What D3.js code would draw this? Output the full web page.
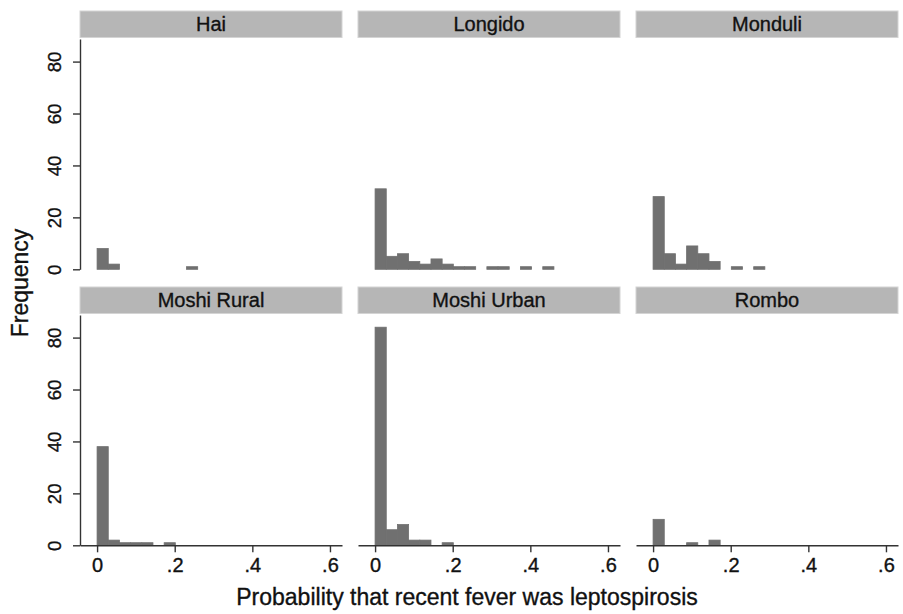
<!DOCTYPE html>
<html>
<head>
<meta charset="utf-8">
<script src="https://cdn.jsdelivr.net/npm/d3@7.9.0/dist/d3.min.js"></script>
<style>
  body { margin: 0; background: #fff; }
  svg text { font-family: "Liberation Sans", Arial, sans-serif; fill: #111; stroke: #111; stroke-width: 0.35px; }
</style>
</head>
<body>
<svg id="chart" width="903" height="614"></svg>
<script>
// histogram bins: 17 bins starting at 0
const binStart = 0;
const binWidth = 0.0288;

const districts = ["Hai", "Longido", "Monduli", "Moshi Rural", "Moshi Urban", "Rombo"];
const haiCounts        = [8, 2, 0, 0, 0, 0, 0, 0, 1, 0, 0, 0, 0, 0, 0, 0, 0];
const longidoCounts    = [31, 5, 6, 3, 2, 4, 2, 1, 1, 0, 1, 1, 0, 1, 0, 1, 0];
const monduliCounts    = [28, 6, 2, 9, 6, 3, 0, 1, 0, 1, 0, 0, 0, 0, 0, 0, 0];
const moshiRuralCounts = [38, 2, 1, 1, 1, 0, 1, 0, 0, 0, 0, 0, 0, 0, 0, 0, 0];
const moshiUrbanCounts = [84, 6, 8, 2, 2, 0, 1, 0, 0, 0, 0, 0, 0, 0, 0, 0, 0];
const romboCounts      = [10, 0, 0, 1, 0, 2, 0, 0, 0, 0, 0, 0, 0, 0, 0, 0, 0];
const allCounts = [haiCounts, longidoCounts, monduliCounts, moshiRuralCounts, moshiUrbanCounts, romboCounts];

const xTicks = [0, 0.2, 0.4, 0.6];
const yTicks = [0, 20, 40, 60, 80];

const svg = d3.select("#chart");

const panelW = 262;
const colStep = 278;
const left = 80;
const rowStep = 276;
const stripTop = 11, stripH = 26.5;
const plotTop = 39, plotBottom = 269.3;

const fmt = d => d === 0 ? "0" : d3.format(".1f")(d).replace(/^0/, "");

districts.forEach((name, i) => {
    let col = i % 3, row = Math.floor(i / 3);
    let x0 = left + col * colStep;
    let dy = row * rowStep;

    let x = d3.scaleLinear().domain([-0.044, 0.631]).range([x0, x0 + panelW]);
    let y = d3.scaleLinear().domain([0, 88.7]).range([plotBottom + dy, plotTop + dy]);

    // strip
    svg.append("rect")
        .attr("x", x0).attr("y", stripTop + dy)
        .attr("width", panelW).attr("height", stripH)
        .attr("fill", "#b6b6b6")
        .attr("stroke", "#d4d4d4").attr("stroke-width", 1);
    svg.append("text")
        .attr("x", x0 + panelW / 2).attr("y", stripTop + dy + 19.5)
        .attr("text-anchor", "middle")
        .attr("font-size", 20)
        .text(name);

    // bars
    let bars = allCounts[i].map((c, k) => ({ x0: binStart + k * binWidth, count: c }))
        .filter(d => d.count > 0);
    svg.append("g").selectAll("rect").data(bars).join("rect")
        .attr("x", d => x(d.x0))
        .attr("width", x(binWidth) - x(0))
        .attr("y", d => y(d.count))
        .attr("height", d => y(0) - y(d.count))
        .attr("fill", "#707070")
        .attr("stroke", "#707070").attr("stroke-width", 0.8);

    // y axis on first column
    if (col === 0) {
        let yAxis = svg.append("g")
            .attr("transform", `translate(${x0},0)`)
            .call(d3.axisLeft(y).tickValues(yTicks).tickSize(7).tickSizeOuter(0).tickPadding(8));
        yAxis.select(".domain").attr("stroke", "#333").attr("stroke-width", 1.4);
        yAxis.selectAll(".tick line").attr("stroke", "#333").attr("stroke-width", 1.4);
        yAxis.selectAll(".tick text")
            .attr("font-size", 18.5)
            .attr("text-anchor", "middle")
            .attr("x", null).attr("dy", null)
            .attr("transform", "translate(-19,0) rotate(-90)");
    }

    // x axis on bottom row
    if (row === 1) {
        let xAxis = svg.append("g")
            .attr("transform", `translate(0,${y(0)})`)
            .call(d3.axisBottom(x).tickValues(xTicks).tickFormat(fmt).tickSize(7).tickSizeOuter(0).tickPadding(6));
        xAxis.select(".domain").attr("stroke", "#333").attr("stroke-width", 1.4);
        xAxis.selectAll(".tick line").attr("stroke", "#333").attr("stroke-width", 1.4);
        xAxis.selectAll(".tick text").attr("font-size", 20);
    }
});

// axis titles
svg.append("text")
    .attr("x", 467).attr("y", 605)
    .attr("text-anchor", "middle")
    .attr("font-size", 23)
    .text("Probability that recent fever was leptospirosis");

svg.append("text")
    .attr("transform", "translate(28,283) rotate(-90)")
    .attr("text-anchor", "middle")
    .attr("font-size", 23)
    .text("Frequency");
</script>
</body>
</html>
